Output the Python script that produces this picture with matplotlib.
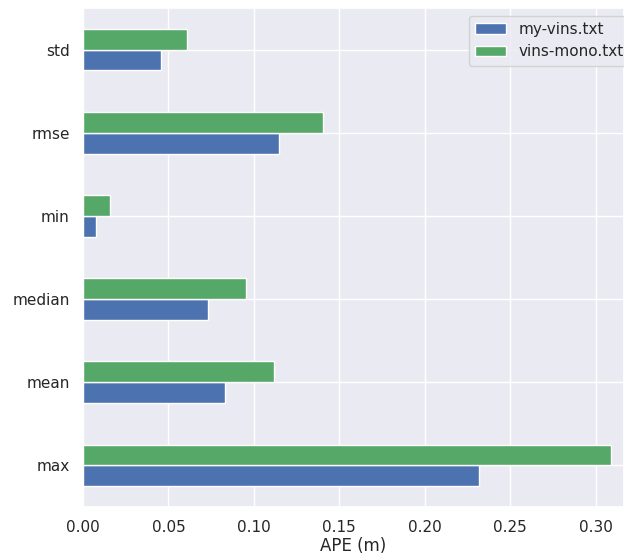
import numpy as np
import matplotlib
matplotlib.use("Agg")
import matplotlib.pyplot as plt
import seaborn as sns

# APE statistics for the two trajectory estimates
metrics = ["max", "mean", "median", "min", "rmse", "std"]
my_vins = [0.2317, 0.0829, 0.0730, 0.0074, 0.1147, 0.0458]
vins_mono = [0.3088, 0.1118, 0.0952, 0.0160, 0.1406, 0.0607]
series_names = ["my-vins.txt", "vins-mono.txt"]

sns.set_theme(style="darkgrid")

fig = plt.figure(figsize=(6.24, 5.56), dpi=100)
ax = fig.add_axes([0.133, 0.0881, 0.867, 0.8975])

y = np.arange(len(metrics))
h = 0.25
ax.barh(y - h / 2, my_vins, height=h, color="#4C72B0", label=series_names[0])
ax.barh(y + h / 2, vins_mono, height=h, color="#55A868", label=series_names[1])

ax.set_yticks(y)
ax.set_yticklabels(metrics)
ax.set_xlim(0, 0.3166)
ax.set_ylim(-0.5, 5.5)
ax.set_xticks(np.arange(0, 0.31, 0.05))
ax.set_xlabel("APE (m)", labelpad=1.5)
ax.legend(loc="upper right", bbox_to_anchor=(1.0245, 1.0))

fig.savefig("out.png", dpi=100)
